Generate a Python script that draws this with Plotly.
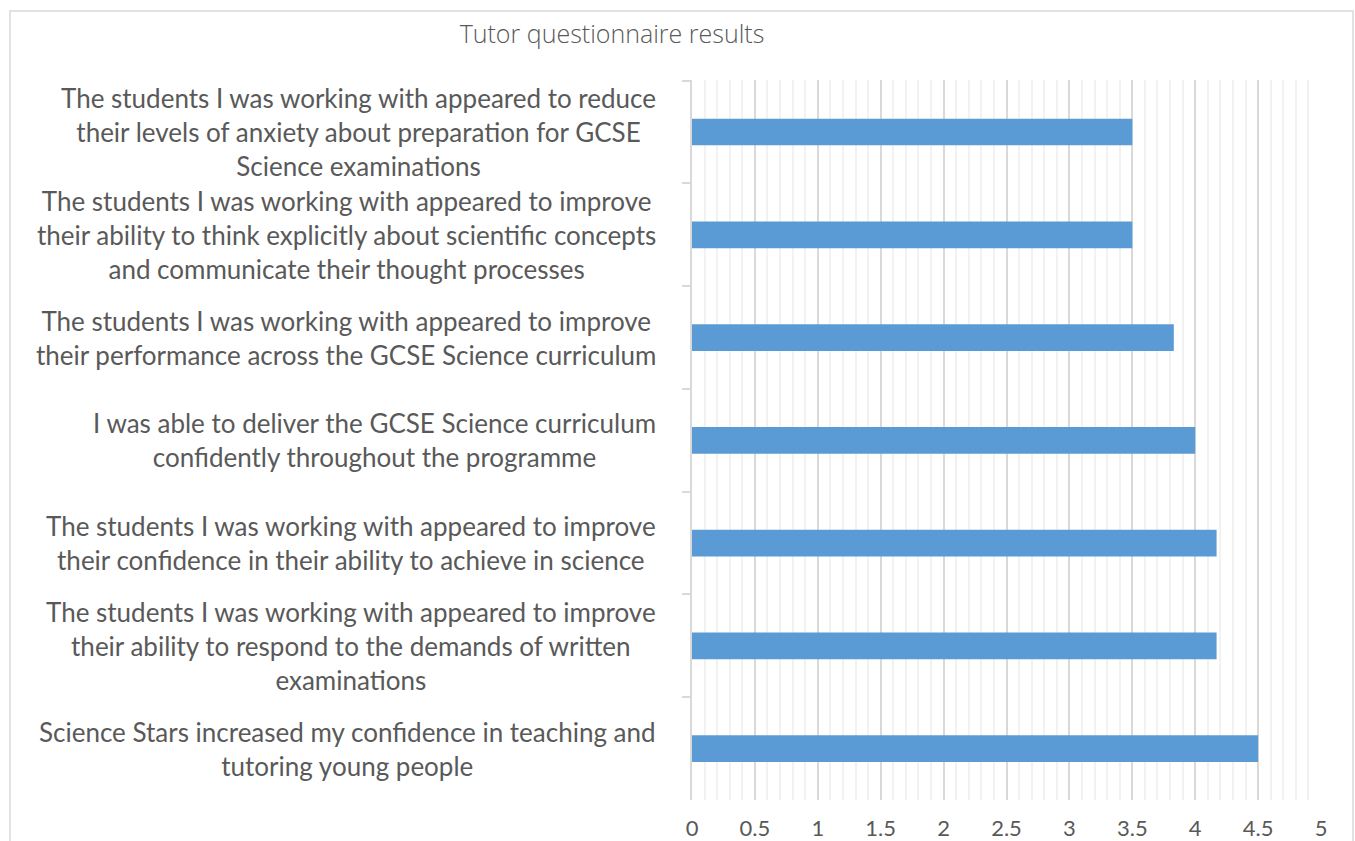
import plotly.graph_objects as go

title = "Tutor questionnaire results"
categories = [
    "The students I was working with appeared to reduce<br>their levels of anxiety about preparation for GCSE<br>Science examinations",
    "The students I was working with appeared to improve<br>their ability to think explicitly about scientific concepts<br>and communicate their thought processes",
    "The students I was working with appeared to improve<br>their performance across the GCSE Science curriculum",
    "I was able to deliver the GCSE Science curriculum<br>confidently throughout the programme",
    "The students I was working with appeared to improve<br>their confidence in their ability to achieve in science",
    "The students I was working with appeared to improve<br>their ability to respond to the demands of written<br>examinations",
    "Science Stars increased my confidence in teaching and<br>tutoring young people",
]
values = [3.5, 3.5, 3.83, 4.0, 4.17, 4.17, 4.5]
x_ticks = [0, 0.5, 1, 1.5, 2, 2.5, 3, 3.5, 4, 4.5, 5]
x_tick_labels = ["0", "0.5", "1", "1.5", "2", "2.5", "3", "3.5", "4", "4.5", "5"]

W, H = 1355, 841
L, R, T, B = 692, 34, 80, 41
pw, ph = W - L - R, H - T - B

def px_x(p):
    return (p - L) / pw

def px_y(p):
    return (H - B - p) / ph

FONT = "Lato"
TXT = "#595959"

fig = go.Figure(go.Bar(
    x=values, y=categories, orientation="h",
    marker=dict(color="#5b9bd5", line=dict(width=0)),
))

annotations = []
for c in categories:
    annotations.append(dict(
        x=px_x(658), xref="paper", y=c, yref="y",
        text=c, showarrow=False, xanchor="right", yanchor="middle",
        align="center", font=dict(family=FONT, size=26, color=TXT),
    ))

fig.update_layout(
    width=W, height=H,
    margin=dict(l=L, r=R, t=T, b=B, autoexpand=False),
    paper_bgcolor="white", plot_bgcolor="white",
    bargap=0.74,
    showlegend=False,
    title=dict(text=title, x=612 / W, xanchor="center", y=1 - 34 / H, yanchor="middle",
               font=dict(family="Open Sans", size=25, color=TXT, weight=300)),
    annotations=annotations,
    shapes=[dict(type="rect", xref="paper", yref="paper",
                 x0=px_x(10), x1=px_x(1353), y0=px_y(880), y1=px_y(11),
                 line=dict(color="#d9d9d9", width=1.5), layer="below")],
)
fig.update_xaxes(
    range=[0, 5], tickvals=x_ticks, ticktext=x_tick_labels,
    showgrid=True, gridcolor="#d9d9d9", gridwidth=1.5,
    minor=dict(dtick=0.1, showgrid=True, gridcolor="#f2f2f2", gridwidth=1.5),
    showline=False, zeroline=False, ticks="",
    tickfont=dict(family=FONT, size=22, color=TXT),
    ticklabelstandoff=13, automargin=False,
)
fig.update_yaxes(
    autorange="reversed", showticklabels=False, automargin=False,
    showline=True, linecolor="#d9d9d9", linewidth=1.5,
    ticks="outside", tickson="boundaries", ticklen=8, tickcolor="#d9d9d9", tickwidth=1.5,
    showgrid=False, zeroline=False,
)
fig.write_html("out.html")
